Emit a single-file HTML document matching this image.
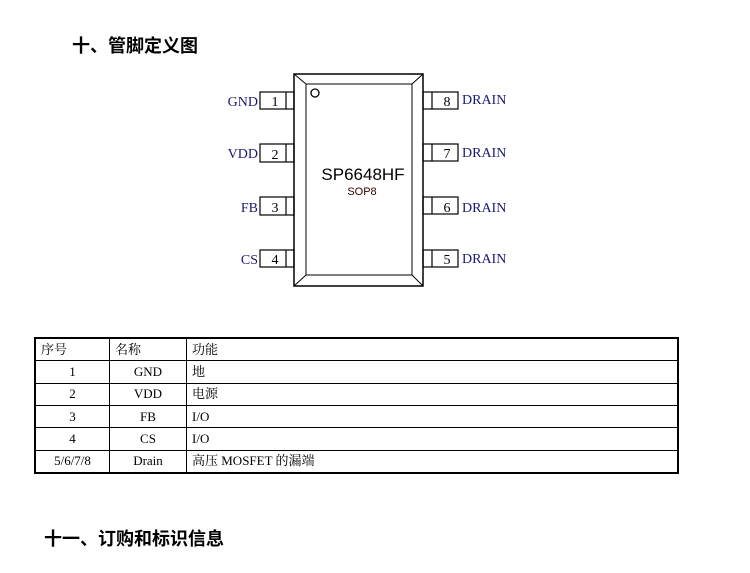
<!DOCTYPE html>
<html><head><meta charset="utf-8"><style>
body{margin:0;background:#fff;width:750px;height:573px;position:relative;overflow:hidden;font-family:"Liberation Serif","Noto Serif CJK SC",serif;}
.h{position:absolute;font-family:"Liberation Sans","Noto Sans CJK SC",sans-serif;font-weight:bold;font-size:18px;color:#000;}
table{position:absolute;left:34px;top:337px;width:645px;height:137px;border-collapse:collapse;border:2px solid #000;font-size:13px;}
td{border:1px solid #000;padding:0 5px;line-height:16px;}
.c{text-align:center}
</style></head><body>
<div class="h" style="left:72px;top:32px">十、管脚定义图</div>
<svg width="750" height="300" style="position:absolute;left:0;top:0" font-family="Liberation Serif, serif">
<rect x="294" y="74" width="129" height="212" fill="#fff" stroke="#000" stroke-width="1.5"/>
<rect x="306" y="84" width="106" height="191" fill="none" stroke="#000" stroke-width="1"/>
<line x1="294" y1="74" x2="306" y2="84" stroke="#000"/><line x1="423" y1="74" x2="412" y2="84" stroke="#000"/>
<line x1="294" y1="286" x2="306" y2="275" stroke="#000"/><line x1="423" y1="286" x2="412" y2="275" stroke="#000"/>
<circle cx="315" cy="93" r="4" fill="none" stroke="#000" stroke-width="1.3"/>
<g fill="none" stroke="#000" stroke-width="1.2">
<rect x="260" y="92" width="34" height="17"/><line x1="286" y1="92" x2="286" y2="109"/>
<rect x="260" y="144" width="34" height="18"/><line x1="286" y1="144" x2="286" y2="162"/>
<rect x="260" y="197" width="34" height="18"/><line x1="286" y1="197" x2="286" y2="215"/>
<rect x="260" y="250" width="34" height="17"/><line x1="286" y1="250" x2="286" y2="267"/>
<rect x="423" y="92" width="35" height="17"/><line x1="432" y1="92" x2="432" y2="109"/>
<rect x="423" y="144" width="35" height="17"/><line x1="432" y1="144" x2="432" y2="161"/>
<rect x="423" y="197" width="35" height="17"/><line x1="432" y1="197" x2="432" y2="214"/>
<rect x="423" y="250" width="35" height="17"/><line x1="432" y1="250" x2="432" y2="267"/>
</g>
<g font-size="14" fill="#000">
<text x="275" y="106" text-anchor="middle">1</text><text x="275" y="159" text-anchor="middle">2</text>
<text x="275" y="212" text-anchor="middle">3</text><text x="275" y="264" text-anchor="middle">4</text>
<text x="447" y="106" text-anchor="middle">8</text><text x="447" y="158" text-anchor="middle">7</text>
<text x="447" y="212" text-anchor="middle">6</text><text x="447" y="264" text-anchor="middle">5</text>
</g>
<g font-size="14" fill="#1a1a6a">
<text x="258" y="106" text-anchor="end">GND</text><text x="258" y="158" text-anchor="end">VDD</text>
<text x="258" y="212" text-anchor="end">FB</text><text x="258" y="264" text-anchor="end">CS</text>
<text x="462" y="104">DRAIN</text><text x="462" y="157">DRAIN</text>
<text x="462" y="212">DRAIN</text><text x="462" y="263">DRAIN</text>
</g>
<text x="363" y="180" text-anchor="middle" font-family="Liberation Sans, sans-serif" font-size="17">SP6648HF</text>
<text x="362" y="195" text-anchor="middle" font-family="Liberation Sans, sans-serif" font-size="11" fill="#300">SOP8</text>
</svg>
<table>
<tr><td style="width:63px">序号</td><td style="width:66px">名称</td><td>功能</td></tr>
<tr><td class="c">1</td><td class="c">GND</td><td>地</td></tr>
<tr><td class="c">2</td><td class="c">VDD</td><td>电源</td></tr>
<tr><td class="c">3</td><td class="c">FB</td><td>I/O</td></tr>
<tr><td class="c">4</td><td class="c">CS</td><td>I/O</td></tr>
<tr><td class="c">5/6/7/8</td><td class="c">Drain</td><td>高压 MOSFET 的漏端</td></tr>
</table>
<div class="h" style="left:44px;top:525px">十一、订购和标识信息</div>
</body></html>
